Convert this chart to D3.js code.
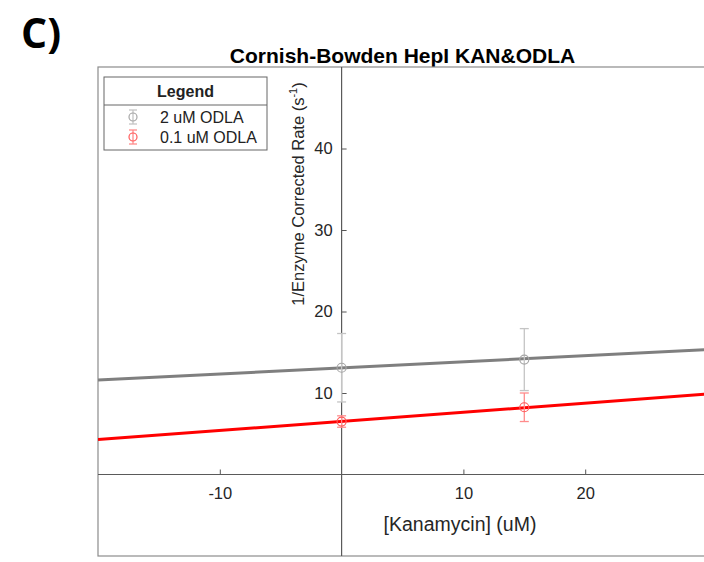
<!DOCTYPE html>
<html>
<head>
<meta charset="utf-8">
<script src="https://cdn.jsdelivr.net/npm/d3@7"></script>
<style>
  html, body { margin: 0; padding: 0; background: #fff; }
  svg { display: block; font-family: "Liberation Sans", Arial, sans-serif; }
</style>
</head>
<body>
<svg id="chart" width="704" height="562"></svg>
<script>
// Kanamycin concentrations (uM) at which rates were measured
const kanamycin = [0, 15];

// Series labels
const seriesNames = ["2 uM ODLA", "0.1 uM ODLA"];

// 1/rate (s^-1) for each ODLA concentration, with error bar half-widths
const rate2uM = [13.1, 14.1];
const err2uM = [4.2, 3.8];
const rate01uM = [6.5, 8.25];
const err01uM = [0.7, 1.75];

// Linear fits: 1/rate = intercept + slope * [Kanamycin]
const fitIntercept = [13.08, 6.52];
const fitSlope = [0.0745, 0.112];

// Tick values shown on the axes
const xTicks = [-10, 10, 20];
const yTicks = [10, 20, 30, 40];

const lineColors = ["#7f7f7f", "#ff0000"];
const barColors = ["#c4c4c4", "#ff8c8c"];
const markerColors = ["#a6a6a6", "#ff5a5a"];

const svg = d3.select("#chart");

const plot = { left: 98, top: 67, right: 707, bottom: 556 };

const x = d3.scaleLinear().domain([-20, 30]).range([plot.left, plot.right]);
const y = d3.scaleLinear().domain([-10, 50]).range([plot.bottom, plot.top]);

// Panel letter
svg.append("text")
  .attr("x", 21).attr("y", 48)
  .attr("font-family", "'Open Sans', 'Liberation Sans', sans-serif")
  .attr("font-weight", "bold")
  .attr("font-size", 41)
  .attr("fill", "#000")
  .text("C)");

// Title
svg.append("text")
  .attr("x", (plot.left + plot.right) / 2).attr("y", 63)
  .attr("text-anchor", "middle")
  .attr("font-weight", "bold")
  .attr("font-size", 21)
  .attr("fill", "#000")
  .text("Cornish-Bowden HepI KAN&ODLA");

// Axes box
svg.append("rect")
  .attr("x", plot.left).attr("y", plot.top)
  .attr("width", plot.right - plot.left).attr("height", plot.bottom - plot.top)
  .attr("fill", "none").attr("stroke", "#8c8c8c").attr("stroke-width", 1.2);

svg.append("clipPath").attr("id", "plotclip")
  .append("rect")
  .attr("x", plot.left).attr("y", plot.top)
  .attr("width", plot.right - plot.left).attr("height", plot.bottom - plot.top);

// Axes through the origin, ticks pointing inward
const xAxis = d3.axisBottom(x)
  .tickValues(xTicks)
  .tickFormat(d => String(d))
  .tickSizeInner(-5).tickSizeOuter(0).tickPadding(13);
const gx = svg.append("g")
  .attr("transform", `translate(0,${y(0)})`)
  .call(xAxis);

const yAxis = d3.axisLeft(y)
  .tickValues(yTicks)
  .tickFormat(d => String(d))
  .tickSizeInner(-5).tickSizeOuter(0).tickPadding(9);
const gy = svg.append("g")
  .attr("transform", `translate(${x(0)},0)`)
  .call(yAxis);

[gx, gy].forEach(g => {
  g.select(".domain").remove();
  g.selectAll(".tick line").attr("stroke", "#555").attr("stroke-width", 1);
  g.selectAll(".tick text")
    .attr("font-family", "'Liberation Sans', Arial, sans-serif")
    .attr("font-size", 16.5).attr("fill", "#262626");
});

// Axis lines spanning the whole box
svg.append("line")
  .attr("x1", plot.left).attr("x2", plot.right)
  .attr("y1", y(0)).attr("y2", y(0))
  .attr("stroke", "#5a5a5a").attr("stroke-width", 1.2);
svg.append("line")
  .attr("x1", x(0)).attr("x2", x(0))
  .attr("y1", plot.top).attr("y2", plot.bottom)
  .attr("stroke", "#5a5a5a").attr("stroke-width", 1.2);

// Axis labels
svg.append("text")
  .attr("x", 460).attr("y", 531)
  .attr("text-anchor", "middle")
  .attr("font-size", 19.5).attr("fill", "#262626")
  .text("[Kanamycin] (uM)");

const yl = svg.append("text")
  .attr("transform", "translate(304,194) rotate(-90)")
  .attr("text-anchor", "middle")
  .attr("font-size", 16.5).attr("fill", "#262626");
yl.append("tspan").text("1/Enzyme Corrected Rate (s");
yl.append("tspan").attr("font-size", 11).attr("dy", -7).text("-1");
yl.append("tspan").attr("dy", 7).text(")");

// Fit lines
const plotArea = svg.append("g").attr("clip-path", "url(#plotclip)");
const xDomain = x.domain();
fitIntercept.forEach((b, i) => {
  const pts = xDomain.map(v => [v, b + fitSlope[i] * v]);
  plotArea.append("path")
    .attr("d", d3.line().x(d => x(d[0])).y(d => y(d[1]))(pts))
    .attr("fill", "none")
    .attr("stroke", lineColors[i])
    .attr("stroke-width", 3);
});

// Error bars with circle markers
const series = [
  { rates: rate2uM, errs: err2uM },
  { rates: rate01uM, errs: err01uM }
];
const capHalf = 4.5;
series.forEach((s, i) => {
  const pts = kanamycin.map((k, j) => ({ k, r: s.rates[j], e: s.errs[j] }));
  const g = plotArea.append("g");
  const eb = g.selectAll("g.eb").data(pts).enter().append("g");
  eb.append("line")
    .attr("x1", d => x(d.k)).attr("x2", d => x(d.k))
    .attr("y1", d => y(d.r - d.e)).attr("y2", d => y(d.r + d.e))
    .attr("stroke", barColors[i]).attr("stroke-width", 1.3);
  [-1, 1].forEach(sgn => {
    eb.append("line")
      .attr("x1", d => x(d.k) - capHalf).attr("x2", d => x(d.k) + capHalf)
      .attr("y1", d => y(d.r + sgn * d.e)).attr("y2", d => y(d.r + sgn * d.e))
      .attr("stroke", barColors[i]).attr("stroke-width", 1.3);
  });
  eb.append("circle")
    .attr("cx", d => x(d.k)).attr("cy", d => y(d.r))
    .attr("r", 4.5)
    .attr("fill", "none")
    .attr("stroke", markerColors[i]).attr("stroke-width", 1.2);
});

// Legend
const lg = svg.append("g");
const lx = 104, ly = 77, lw = 163, lh = 73;
lg.append("rect")
  .attr("x", lx).attr("y", ly).attr("width", lw).attr("height", lh)
  .attr("fill", "#fff").attr("stroke", "#666").attr("stroke-width", 1);
lg.append("line")
  .attr("x1", lx).attr("x2", lx + lw)
  .attr("y1", ly + 28).attr("y2", ly + 28)
  .attr("stroke", "#666").attr("stroke-width", 1);
lg.append("text")
  .attr("x", lx + lw / 2).attr("y", ly + 20)
  .attr("text-anchor", "middle")
  .attr("font-weight", "bold").attr("font-size", 16).attr("fill", "#222")
  .text("Legend");

seriesNames.forEach((name, i) => {
  const cy = ly + 40 + i * 20;
  const ix = 133;
  const item = lg.append("g");
  item.append("line")
    .attr("x1", ix).attr("x2", ix).attr("y1", cy - 7).attr("y2", cy + 7)
    .attr("stroke", barColors[i]).attr("stroke-width", 1.3);
  [-7, 7].forEach(o => item.append("line")
    .attr("x1", ix - 4).attr("x2", ix + 4).attr("y1", cy + o).attr("y2", cy + o)
    .attr("stroke", barColors[i]).attr("stroke-width", 1.3));
  item.append("circle")
    .attr("cx", ix).attr("cy", cy).attr("r", 4)
    .attr("fill", "none").attr("stroke", markerColors[i]).attr("stroke-width", 1.2);
  item.append("text")
    .attr("x", 160).attr("y", cy + 5.5)
    .attr("font-size", 16).attr("fill", "#222")
    .text(name);
});
</script>
</body>
</html>
